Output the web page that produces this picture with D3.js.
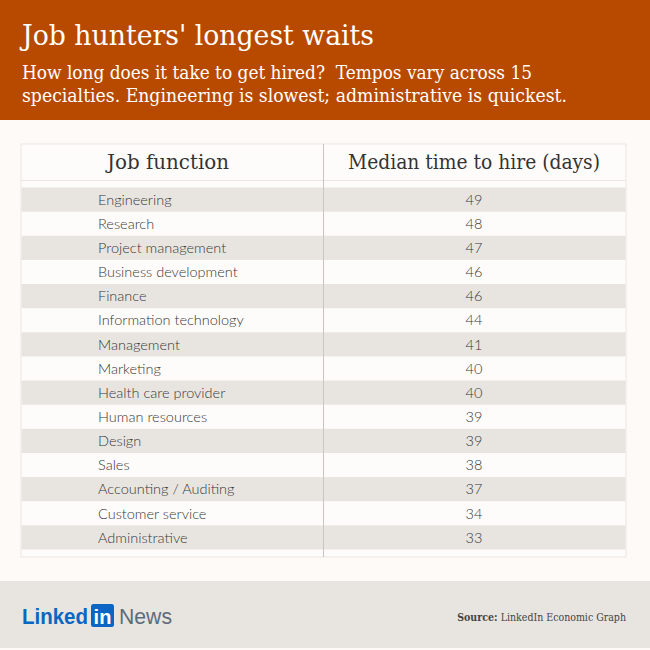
<!DOCTYPE html>
<html>
<head>
<meta charset="utf-8">
<script src="https://cdn.jsdelivr.net/npm/d3@7"></script>
<style>
  body { margin: 0; background: #fdfaf7; }
  svg { display: block; }
</style>
</head>
<body>
<svg id="chart"></svg>
<script>
// Data
var jobFunctions = ["Engineering", "Research", "Project management", "Business development", "Finance",
    "Information technology", "Management", "Marketing", "Health care provider", "Human resources",
    "Design", "Sales", "Accounting / Auditing", "Customer service", "Administrative"];
var medianDays = [49, 48, 47, 46, 46, 44, 41, 40, 40, 39, 39, 38, 37, 34, 33];
var columnHeads = ["Job function", "Median time to hire (days)"];

var width = 650, height = 650;
var slab = "'DejaVu Serif Condensed', 'DejaVu Serif', serif";
var sans = "Lato, 'Open Sans', sans-serif";

var svg = d3.select("#chart").attr("width", width).attr("height", height);

// Background blocks
svg.append("rect").attr("width", width).attr("height", height).attr("fill", "#fdfaf7");
svg.append("rect").attr("width", width).attr("height", 120).attr("fill", "#b84a00");
svg.append("rect").attr("y", 581).attr("width", width).attr("height", 67).attr("fill", "#e8e4df");

// Header text
svg.append("text").attr("x", 22).attr("y", 45)
    .style("font-family", slab).style("font-size", "28px").attr("fill", "#fff")
    .attr("textLength", 352).attr("lengthAdjust", "spacingAndGlyphs")
    .text("Job hunters' longest waits");
var sub = ["How long does it take to get hired?  Tempos vary across 15",
           "specialties. Engineering is slowest; administrative is quickest."];
var subLen = [510, 545];
svg.selectAll("text.sub").data(sub).enter().append("text").attr("class", "sub")
    .attr("x", 22).attr("y", function (d, i) { return 79 + i * 23; })
    .style("font-family", slab).style("font-size", "18px").attr("fill", "#fff")
    .style("white-space", "pre")
    .attr("textLength", function (d, i) { return subLen[i]; }).attr("lengthAdjust", "spacingAndGlyphs")
    .text(function (d) { return d; });

// Table frame
var tableLeft = 21, tableRight = 626, tableTop = 144, tableBottom = 557, divider = 323;
svg.append("rect").attr("x", tableLeft).attr("y", tableTop)
    .attr("width", tableRight - tableLeft).attr("height", tableBottom - tableTop)
    .attr("fill", "#fefcfa").attr("stroke", "#ebe7e2");

// Row scale
var y = d3.scaleBand().domain(jobFunctions).range([187.5, 549.5]).padding(0);

var rows = svg.selectAll("g.row").data(jobFunctions).enter().append("g").attr("class", "row");
rows.append("rect")
    .attr("x", tableLeft + 0.5).attr("width", tableRight - tableLeft - 1)
    .attr("y", function (d) { return y(d); }).attr("height", y.bandwidth())
    .attr("fill", function (d, i) { return i % 2 === 0 ? "#e8e5e0" : "none"; });
rows.append("text")
    .attr("x", 98).attr("y", function (d) { return y(d) + y.bandwidth() / 2; }).attr("dy", "0.36em")
    .style("font-family", sans).style("font-size", "14.5px").style("font-weight", 300).attr("fill", "#383838")
    .text(function (d) { return d; });
rows.append("text")
    .attr("x", 474).attr("y", function (d) { return y(d) + y.bandwidth() / 2; }).attr("dy", "0.36em")
    .attr("text-anchor", "middle")
    .style("font-family", sans).style("font-size", "14.5px").style("font-weight", 300).attr("fill", "#383838")
    .text(function (d, i) { return medianDays[i]; });

// Header line and divider
svg.append("line").attr("x1", tableLeft).attr("x2", tableRight).attr("y1", 180.5).attr("y2", 180.5)
    .attr("stroke", "#ebe7e2");
svg.append("line").attr("x1", divider + 0.5).attr("x2", divider + 0.5).attr("y1", tableTop).attr("y2", tableBottom)
    .attr("stroke", "#c9c5c0");

// Column heads
var headX = [168, 474], headLen = [122, 252];
svg.selectAll("text.head").data(columnHeads).enter().append("text").attr("class", "head")
    .attr("x", function (d, i) { return headX[i]; }).attr("y", 169).attr("text-anchor", "middle")
    .style("font-family", slab).style("font-size", "20px").attr("fill", "#333")
    .attr("textLength", function (d, i) { return headLen[i]; }).attr("lengthAdjust", "spacingAndGlyphs")
    .text(function (d) { return d; });

// Footer: logo and source
var logo = svg.append("g").attr("transform", "translate(22,624)");
logo.append("text").attr("x", 0).attr("y", 0)
    .style("font-family", "'Liberation Sans', Arial, sans-serif").style("font-size", "22px").style("font-weight", 700)
    .attr("fill", "#0a66c2").attr("textLength", 66).attr("lengthAdjust", "spacingAndGlyphs").text("Linked");
logo.append("rect").attr("x", 69).attr("y", -20).attr("width", 23).attr("height", 23).attr("rx", 2.5)
    .attr("fill", "#0a66c2");
logo.append("text").attr("x", 80.5).attr("y", 0).attr("text-anchor", "middle")
    .style("font-family", "'Liberation Sans', Arial, sans-serif").style("font-size", "20px").style("font-weight", 700)
    .attr("fill", "#fff").text("in");
logo.append("text").attr("x", 97).attr("y", 0)
    .style("font-family", "'Liberation Sans', Arial, sans-serif").style("font-size", "22px")
    .attr("fill", "#5e6b7a").attr("textLength", 53).attr("lengthAdjust", "spacingAndGlyphs").text("News");

var src = svg.append("text").attr("x", 626).attr("y", 621).attr("text-anchor", "end")
    .style("font-family", slab).style("font-size", "10.5px").attr("fill", "#444");
src.append("tspan").style("font-weight", 700).text("Source: ");
src.append("tspan").text("LinkedIn Economic Graph");
</script>
</body>
</html>
